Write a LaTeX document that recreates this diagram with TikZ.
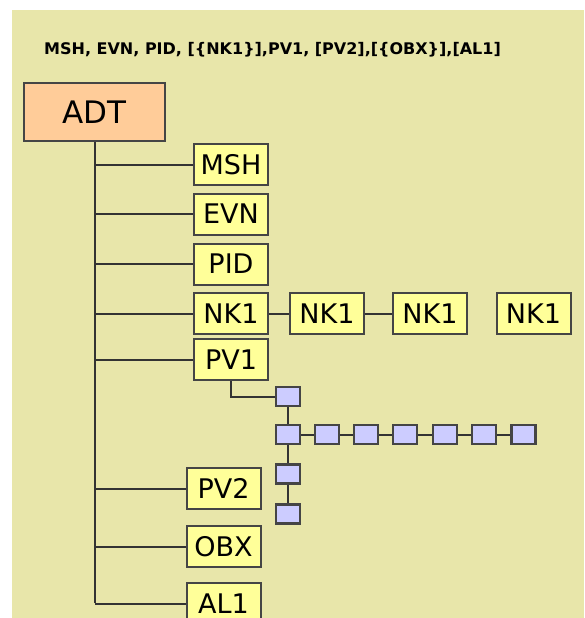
\documentclass[tikz,border=0pt]{standalone}
\usepackage{fontspec}
\setmainfont{DejaVu Sans}
\definecolor{bgk}{HTML}{E8E6AA}
\definecolor{segy}{HTML}{FFFF99}
\definecolor{adtc}{HTML}{FFCC99}
\definecolor{sqc}{HTML}{CCCCFF}
\definecolor{edgec}{HTML}{454545}
\definecolor{linec}{HTML}{333333}
\begin{document}
\begin{tikzpicture}[x=1pt,y=-1pt,
  seg/.style={draw=edgec,line width=2pt,fill=segy,minimum width=74pt,minimum height=41pt,inner sep=0pt,font=\fontsize{27}{29}\selectfont},
  root/.style={draw=edgec,line width=2pt,fill=adtc,minimum width=141pt,minimum height=58pt,inner sep=0pt,font=\fontsize{31}{33}\selectfont},
  sq/.style={draw=edgec,line width=2.2pt,fill=sqc,minimum width=24pt,minimum height=19pt,inner sep=0pt},
  conn/.style={draw=linec,line width=2pt}]
\useasboundingbox (0,0) rectangle (584,618);
\fill[white] (0,0) rectangle (584,618);
\fill[bgk] (12,10) rectangle (584,618);
\node[font=\bfseries\fontsize{16}{18}\selectfont,anchor=center] (title) at (272.5,50) {MSH, EVN, PID, [\{NK1\}],PV1, [PV2],[\{OBX\}],[AL1]};
\node[root] (adt) at (94.5,112) {ADT};
\node[seg] (msh) at (231,164.5) {MSH};
\node[seg] (evn) at (231,214) {EVN};
\node[seg] (pid) at (231,264) {PID};
\node[seg] (nka) at (231,313.5) {NK1};
\node[seg] (nkb) at (327,313.5) {NK1};
\node[seg] (nkc) at (430,313.5) {NK1};
\node[seg] (nkd) at (533.5,313.5) {NK1};
\node[seg] (pv1) at (231,359.5) {PV1};
\node[seg] (pv2) at (223.5,488.5) {PV2};
\node[seg] (obx) at (223.5,546.5) {OBX};
\node[seg] (al1) at (223.5,603.5) {AL1};
\node[sq] (s0) at (288,396.5) {};
\node[sq] (r1) at (288,434.5) {};
\node[sq] (r2) at (327,434.5) {};
\node[sq] (r3) at (366,434.5) {};
\node[sq] (r4) at (405,434.5) {};
\node[sq] (r5) at (445,434.5) {};
\node[sq] (r6) at (484,434.5) {};
\node[sq] (r7) at (523.5,434.5) {};
\node[sq] (c1) at (288,474) {};
\node[sq] (c2) at (288,514) {};
\coordinate (bend) at (94.5,603);
\draw[conn] (adt.south) -- (bend);
\foreach \n in {msh,evn,pid,nka,pv1,pv2,obx,al1}{
  \draw[conn] (adt.south |- \n.west) -- (\n.west);
}
\draw[conn] (nka.east) -- (nkb.west);
\draw[conn] (nkb.east) -- (nkc.west);
\draw[conn] (pv1.south) |- (s0.west);
\draw[conn] (s0.south) -- (r1.north);
\draw[conn] (r1.east) -- (r2.west);
\draw[conn] (r2.east) -- (r3.west);
\draw[conn] (r3.east) -- (r4.west);
\draw[conn] (r4.east) -- (r5.west);
\draw[conn] (r5.east) -- (r6.west);
\draw[conn] (r6.east) -- (r7.west);
\draw[conn] (r1.south) -- (c1.north);
\draw[conn] (c1.south) -- (c2.north);
\end{tikzpicture}
\end{document}
